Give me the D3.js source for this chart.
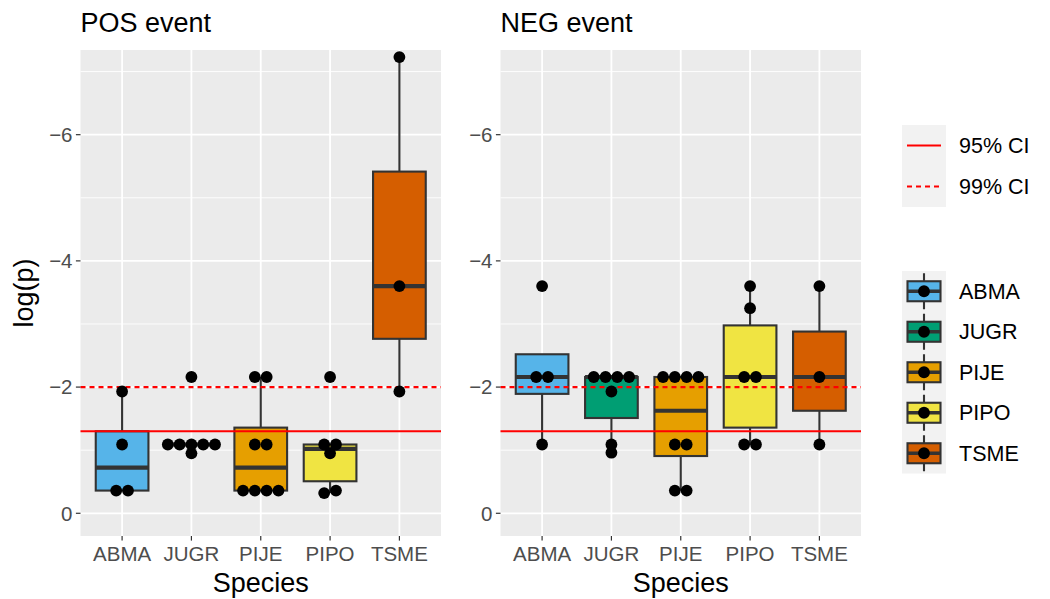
<!DOCTYPE html>
<html><head><meta charset="utf-8">
<script src="https://cdn.jsdelivr.net/npm/d3@7"></script>
<style>
body{margin:0;background:#fff;}
svg{display:block;font-family:"Liberation Sans",Arial,Helvetica,sans-serif;}
</style></head>
<body><svg id="chart" width="1050" height="599"></svg>
<script>
// ---- data ----
const categories = ["ABMA", "JUGR", "PIJE", "PIPO", "TSME"];
const speciesColors = ["#56B4E9", "#009E73", "#E69F00", "#F0E442", "#D55E00"];
const panelTitles = ["POS event", "NEG event"];

const posABMA = [-1.93, -1.09, -0.36, -0.36];
const posJUGR = [-2.16, -1.09, -1.09, -1.09, -1.09, -1.09, -0.95];
const posPIJE = [-2.16, -2.16, -1.09, -1.09, -0.36, -0.36, -0.36, -0.36];
const posPIPO = [-2.16, -1.09, -1.09, -0.95, -0.36, -0.32];
const posTSME = [-7.23, -3.60, -1.93];

const negABMA = [-3.60, -2.16, -2.16, -1.09];
const negJUGR = [-2.16, -2.16, -2.16, -2.16, -1.93, -1.09, -0.96];
const negPIJE = [-2.16, -2.16, -2.16, -2.16, -1.09, -1.09, -0.36, -0.36];
const negPIPO = [-3.60, -3.25, -2.16, -2.16, -1.09, -1.09];
const negTSME = [-3.60, -2.16, -1.09];

const ciValues = [-1.30, -2.00];
const ciLabels = ["95% CI", "99% CI"];
const ciDash = [null, "5,4"];

const yTicks = [0, -2, -4, -6];
const yTickLabels = ["0", "\u22122", "\u22124", "\u22126"];
const yMinorTicks = [-1, -3, -5, -7];
const yDomain = [-7.342, 0.36];

const xTitle = "Species";
const yTitle = "log(p)";

// ---- layout ----
const panels = [
  {title: panelTitles[0], series: [posABMA, posJUGR, posPIJE, posPIPO, posTSME], x0: 80.5, x1: 441},
  {title: panelTitles[1], series: [negABMA, negJUGR, negPIJE, negPIPO, negTSME], x0: 500.5, x1: 861}
];
const panelTop = 50, panelBottom = 536;
const dotR = 5.9, dotSpacing = 11.8;
const tickFont = 20.5, titleFont = 27, legendFont = 21.5;
const boxStroke = 2.1, medStroke = 4.2, boxColor = "#333333";

const svg = d3.select("#chart");
const y = d3.scaleLinear().domain(yDomain).range([panelTop, panelBottom]);

function boxStats(vals) {
  const s = vals.slice().sort(d3.ascending);
  const q1 = d3.quantileSorted(s, 0.25), med = d3.quantileSorted(s, 0.5), q3 = d3.quantileSorted(s, 0.75);
  const iqr = q3 - q1;
  const lo = d3.min(s.filter(v => v >= q1 - 1.5 * iqr));
  const hi = d3.max(s.filter(v => v <= q3 + 1.5 * iqr));
  return {q1, med, q3, lo, hi};
}

function dotLayout(vals) {
  const s = vals.slice().sort((a, b) => b - a);
  const rows = [];
  s.forEach(v => {
    const last = rows[rows.length - 1];
    if (last && Math.abs(last[0] - v) < 0.06) last.push(v); else rows.push([v]);
  });
  const out = [];
  rows.forEach(r => r.forEach((v, i) => out.push({v, off: (i - (r.length - 1) / 2) * dotSpacing})));
  return out;
}

panels.forEach((p, pi) => {
  const x = d3.scalePoint().domain(categories).range([p.x0, p.x1]).padding(0.6);
  const unit = x.step();
  const g = svg.append("g");

  g.append("rect").attr("x", p.x0).attr("y", panelTop).attr("width", p.x1 - p.x0).attr("height", panelBottom - panelTop).attr("fill", "#EBEBEB");
  g.selectAll(".ymin").data(yMinorTicks.filter(t => y(t) > panelTop)).join("line")
    .attr("x1", p.x0).attr("x2", p.x1).attr("y1", d => y(d)).attr("y2", d => y(d))
    .attr("stroke", "#fff").attr("stroke-width", 0.9);
  g.selectAll(".ymaj").data(yTicks).join("line")
    .attr("x1", p.x0).attr("x2", p.x1).attr("y1", d => y(d)).attr("y2", d => y(d))
    .attr("stroke", "#fff").attr("stroke-width", 1.8);
  g.selectAll(".xmaj").data(categories).join("line")
    .attr("x1", d => x(d)).attr("x2", d => x(d)).attr("y1", panelTop).attr("y2", panelBottom)
    .attr("stroke", "#fff").attr("stroke-width", 1.8);

  const bw = unit * 0.76;
  categories.forEach((c, i) => {
    const st = boxStats(p.series[i]);
    const xc = x(c);
    const bg = g.append("g");
    bg.append("line").attr("x1", xc).attr("x2", xc).attr("y1", y(st.hi)).attr("y2", y(st.q3)).attr("stroke", boxColor).attr("stroke-width", boxStroke);
    bg.append("line").attr("x1", xc).attr("x2", xc).attr("y1", y(st.q1)).attr("y2", y(st.lo)).attr("stroke", boxColor).attr("stroke-width", boxStroke);
    const yA = y(st.q1), yB = y(st.q3);
    bg.append("rect").attr("x", xc - bw / 2).attr("width", bw)
      .attr("y", Math.min(yA, yB)).attr("height", Math.abs(yA - yB))
      .attr("fill", speciesColors[i]).attr("stroke", boxColor).attr("stroke-width", boxStroke);
    bg.append("line").attr("x1", xc - bw / 2).attr("x2", xc + bw / 2).attr("y1", y(st.med)).attr("y2", y(st.med))
      .attr("stroke", boxColor).attr("stroke-width", medStroke);
  });

  ciValues.forEach((v, k) => {
    const l = g.append("line").attr("x1", p.x0).attr("x2", p.x1).attr("y1", y(v)).attr("y2", y(v))
      .attr("stroke", "#FF0000").attr("stroke-width", 2.1);
    if (ciDash[k]) l.attr("stroke-dasharray", ciDash[k]);
  });

  categories.forEach((c, i) => {
    g.selectAll(null).data(dotLayout(p.series[i])).join("circle")
      .attr("cx", d => x(c) + d.off).attr("cy", d => y(d.v)).attr("r", dotR).attr("fill", "#000");
  });

  // axes
  const ya = g.append("g");
  yTicks.forEach((t, k) => {
    ya.append("line").attr("x1", p.x0 - 4.6).attr("x2", p.x0).attr("y1", y(t)).attr("y2", y(t)).attr("stroke", "#333").attr("stroke-width", 1.2);
    ya.append("text").attr("x", p.x0 - 8).attr("y", y(t)).attr("dy", "0.36em").attr("text-anchor", "end")
      .attr("fill", "#4D4D4D").attr("font-size", tickFont).text(yTickLabels[k]);
  });
  categories.forEach(c => {
    g.append("line").attr("x1", x(c)).attr("x2", x(c)).attr("y1", panelBottom).attr("y2", panelBottom + 4.6).attr("stroke", "#333").attr("stroke-width", 1.2);
    g.append("text").attr("x", x(c)).attr("y", panelBottom + 25).attr("text-anchor", "middle")
      .attr("fill", "#4D4D4D").attr("font-size", tickFont).text(c);
  });
  g.append("text").attr("x", (p.x0 + p.x1) / 2).attr("y", 592).attr("text-anchor", "middle")
    .attr("font-size", titleFont).attr("fill", "#000").text(xTitle);
  g.append("text").attr("x", p.x0).attr("y", 32).attr("font-size", titleFont).attr("fill", "#000").text(p.title);
  if (pi === 0) {
    g.append("text").attr("transform", `translate(33,${(panelTop + panelBottom) / 2}) rotate(-90)`)
      .attr("text-anchor", "middle").attr("font-size", titleFont).attr("fill", "#000").text(yTitle);
  }
});

// ---- legends ----
const lg = svg.append("g");
const lkX = 902, lkW = 44;
const ciTop = 125, ciKeyH = 41;
lg.append("rect").attr("x", lkX).attr("y", ciTop).attr("width", lkW).attr("height", ciKeyH * ciLabels.length).attr("fill", "#F2F2F2");
ciLabels.forEach((lab, k) => {
  const cy = ciTop + ciKeyH * (k + 0.5);
  const l = lg.append("line").attr("x1", lkX + 5).attr("x2", lkX + lkW - 5).attr("y1", cy).attr("y2", cy)
    .attr("stroke", "#FF0000").attr("stroke-width", 2.1);
  if (ciDash[k]) l.attr("stroke-dasharray", ciDash[k]);
  lg.append("text").attr("x", 959).attr("y", cy).attr("dy", "0.36em").attr("font-size", legendFont).text(lab);
});
const spTop = 271, spKeyH = 40.5;
lg.append("rect").attr("x", lkX).attr("y", spTop).attr("width", lkW).attr("height", spKeyH * categories.length).attr("fill", "#F2F2F2");
categories.forEach((c, k) => {
  const cy = spTop + spKeyH * (k + 0.5);
  const xc = lkX + lkW / 2;
  lg.append("line").attr("x1", xc).attr("x2", xc).attr("y1", cy - 18).attr("y2", cy + 18).attr("stroke", boxColor).attr("stroke-width", boxStroke);
  lg.append("rect").attr("x", lkX + 5.5).attr("width", lkW - 11).attr("y", cy - 10).attr("height", 20)
    .attr("fill", speciesColors[k]).attr("stroke", boxColor).attr("stroke-width", boxStroke);
  lg.append("line").attr("x1", lkX + 5.5).attr("x2", lkX + lkW - 5.5).attr("y1", cy).attr("y2", cy).attr("stroke", boxColor).attr("stroke-width", 3.4);
  lg.append("circle").attr("cx", xc).attr("cy", cy).attr("r", dotR).attr("fill", "#000");
  lg.append("text").attr("x", 959).attr("y", cy).attr("dy", "0.36em").attr("font-size", legendFont).text(c);
});
</script></body></html>
